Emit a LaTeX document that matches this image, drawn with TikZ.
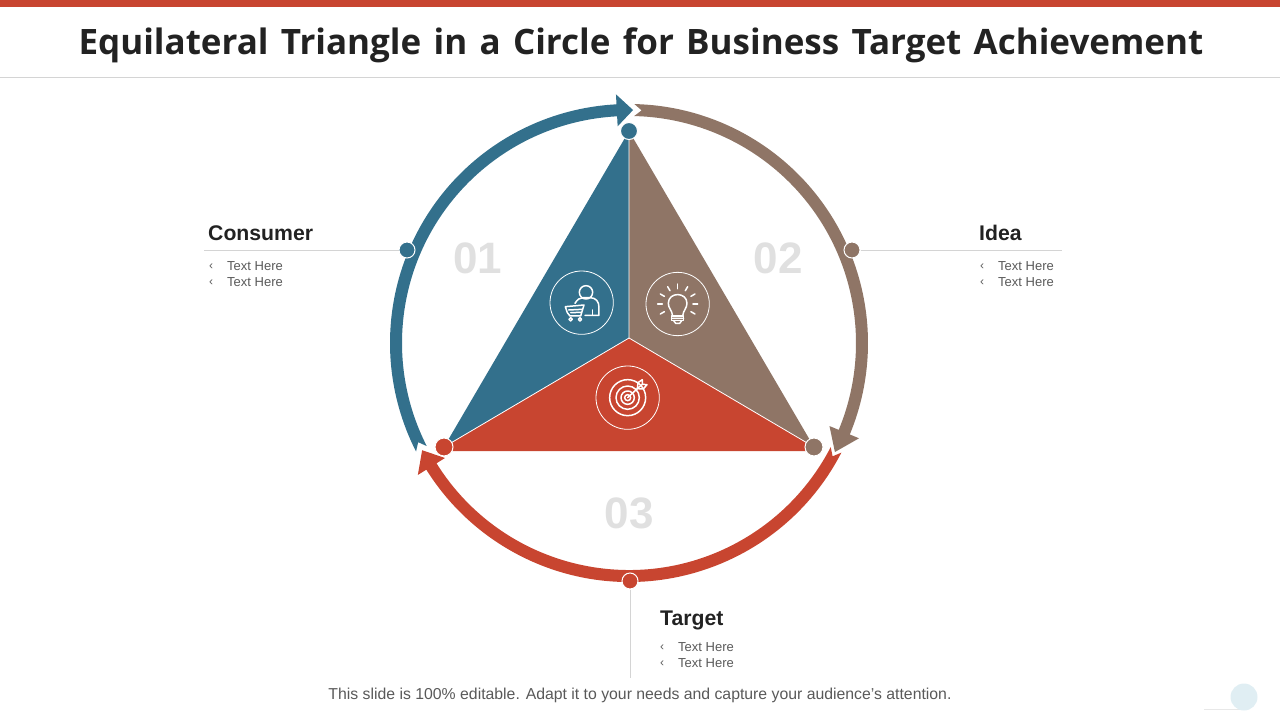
\documentclass[tikz,border=0pt]{standalone}
\usepackage{fontspec}
\setmainfont{Liberation Sans}
\newfontfamily\titlefont{Open Sans}
\usetikzlibrary{calc}

\definecolor{mblue}{HTML}{33708C}
\definecolor{mbrown}{HTML}{8F7566}
\definecolor{mred}{HTML}{C84530}
\definecolor{mgray}{HTML}{D4D4D4}
\definecolor{mnum}{HTML}{E0E0E0}
\definecolor{mtext}{HTML}{595959}
\definecolor{mdark}{HTML}{222222}
\definecolor{mpale}{HTML}{E0EEF3}

\tikzset{
    dotnode/.style={circle, draw=white, line width=1pt, inner sep=0pt, minimum size=#1},
    numnode/.style={text=mnum, font=\bfseries\fontsize{44}{44}\selectfont},
    headnode/.style={anchor=west, inner sep=0pt, text=mdark, font=\bfseries\fontsize{21.2}{21}\selectfont},
    itemnode/.style={anchor=west, inner sep=0pt, text=mtext, font=\fontsize{13}{13}\selectfont},
    marknode/.style={anchor=west, inner sep=0pt, text=mtext, font=\fontsize{12}{12}\selectfont},
    leader/.style={mgray, line width=0.8pt},
    iconline/.style={white, line width=1.5pt, line cap=round, line join=round},
    iconring/.style={white, line width=0.8pt},
}

\begin{document}
\begin{tikzpicture}[x=1pt,y=1pt]
\useasboundingbox (0,0) rectangle (1280,-720);

% top band and title
\fill [mred] (0,0) rectangle (1280,-7);
\draw [leader] (0,-77.5) -- (1280,-77.5);
\node (title) at (641,-45.5) [text=mdark, inner sep=0pt, font=\titlefont\bfseries\fontsize{35}{35}\selectfont] {\spaceskip=12.3pt Equilateral Triangle in a Circle for Business Target Achievement};

% triangle
\fill [mblue] (629,-131) -- (629,-338) -- (444,-447) -- cycle;
\fill [mbrown] (629,-131) -- (629,-338) -- (814,-447) -- cycle;
\fill [mred] (629,-338) -- (814,-447) -- (814,-451) -- (444,-451) -- (444,-447) -- cycle;
\draw [white, line width=0.8pt] (629,-131) -- (629,-338) (444,-447) -- (629,-338) -- (814,-447);

% ring
\pgfmathsetmacro{\rmid}{233}
\begin{scope}[shift={(629,-343)}]
\foreach \mcolor/\atail/\abase/\atip in {mblue/207/93/89, mbrown/88.7/-22.5/-27.9, mred/-27.3/-148/-152.6} {
    \fill [\mcolor] ({\atail}:\rmid+6) arc [start angle=\atail, end angle=\abase, radius=\rmid+6]
        -- ({\abase}:\rmid+16) -- ({\atip}:\rmid) -- ({\abase}:\rmid-16) -- ({\abase}:\rmid-6)
        arc [start angle=\abase, end angle=\atail, radius=\rmid-6]
        -- ({\atail-1.8}:\rmid) -- cycle;
}
\end{scope}

% numbers
\node [numnode] (num1) at (478,-258) {01};
\node [numnode] (num2) at (778,-258) {02};
\node [numnode] (num3) at (629,-513) {03};

% dots
\node [dotnode=17, fill=mblue] (topdot) at (629,-131) {};
\node [dotnode=18, fill=mbrown] (rightdot) at (814,-447) {};
\node [dotnode=18, fill=mred] (leftdot) at (444,-447) {};
\node [dotnode=16, fill=mblue] (consumerdot) at (407,-250) {};
\node [dotnode=16, fill=mbrown] (ideadot) at (852,-250) {};
\node [dotnode=16, fill=mred] (targetdot) at (630,-581) {};

% leaders
\coordinate (consumerend) at (204,-250);
\coordinate (ideaend) at (1062,-250);
\coordinate (targetend) at (630,-678);
\draw [leader] (consumerdot) -- (consumerend);
\draw [leader] (ideadot) -- (ideaend);
\draw [leader] (targetdot) -- (targetend);

% labels
\foreach \mname/\mtitle/\hx/\hy/\bx/\tx/\ya/\yb in {consumer/Consumer/208/233/209/227/266.5/282.5, idea/Idea/979/233/980/998/266.5/282.5, target/Target/660/620/660/678/647.5/663.5} {
    \node [headnode] (\mname head) at (\hx,-\hy) {\mtitle};
    \node [marknode] (\mname mark1) at (\bx,-\ya) {‹};
    \node [marknode] (\mname mark2) at (\bx,-\yb) {‹};
    \node [itemnode] (\mname item1) at (\tx,-\ya) {Text Here};
    \node [itemnode] (\mname item2) at (\tx,-\yb) {Text Here};
}

% footer
\node (footer) at (640,-695.5) [inner sep=0pt, text=mtext, font=\fontsize{15.8}{16}\selectfont] {This slide is 100\% editable. Adapt it to your needs and capture your audience's attention.};
\fill [black!9!white] (1204,-709) rectangle (1240,-709.8);
\fill [mpale] (1244,-697) circle (13.5);

% icons, in the pixels of a 3x crop
\begin{scope}[shift={(530,-260)}, x=0.3333pt, y=-0.3333pt]
\foreach \cx/\cy in {155/128, 443/132, 293/413} {
    \draw [iconring] (\cx,\cy) circle (95);
}
% person and cart
\draw [iconline] (168,97) circle (20);
\draw [iconline] (135,130) .. controls (142,118) and (150,113) .. (160,113) -- (180,113) .. controls (198,113) and (207,125) .. (207,142) -- (207,166) -- (165,166);
\draw [iconline] (187,150) -- (187,165);
\draw [iconline] (106,140) -- (162,135) -- (152,168) -- (120,168) -- (112,158) -- (106,140);
\draw [iconline] (116,150) -- (156,148) (122,158) -- (153,157);
\draw [iconline] (122,178) circle (5) (150,178) circle (5);
% bulb
\draw [iconline] (428,168) .. controls (426,150) and (415,145) .. (415,130) .. controls (415,95) and (471,95) .. (471,130) .. controls (471,145) and (460,150) .. (458,168) -- cycle;
\draw [iconline] (425,168) -- (461,168) -- (461,182) -- (425,182) -- cycle;
\draw [iconline] (425,175) -- (461,175) (431,182) -- (437,190) -- (449,190) -- (455,182);
\foreach \deg in {30,0,-30,-60,-90,-120,-150,-180,-210} {
    \draw [iconline] ($(443,132)+(\deg:46)$) -- ($(443,132)+(\deg:60)$);
}
% target
\foreach \rad in {54,35,20,9} {
    \draw [iconline] (293,413) circle (\rad);
}
\draw [iconline] (293,413) -- (322,386);
\draw [iconline] (322,386) -- (324,368) -- (337,359) -- (337,373) -- (351,374) -- (340,387) -- cycle;
\draw [iconline] (324,384) -- (337,373);
\end{scope}

\end{tikzpicture}
\end{document}
